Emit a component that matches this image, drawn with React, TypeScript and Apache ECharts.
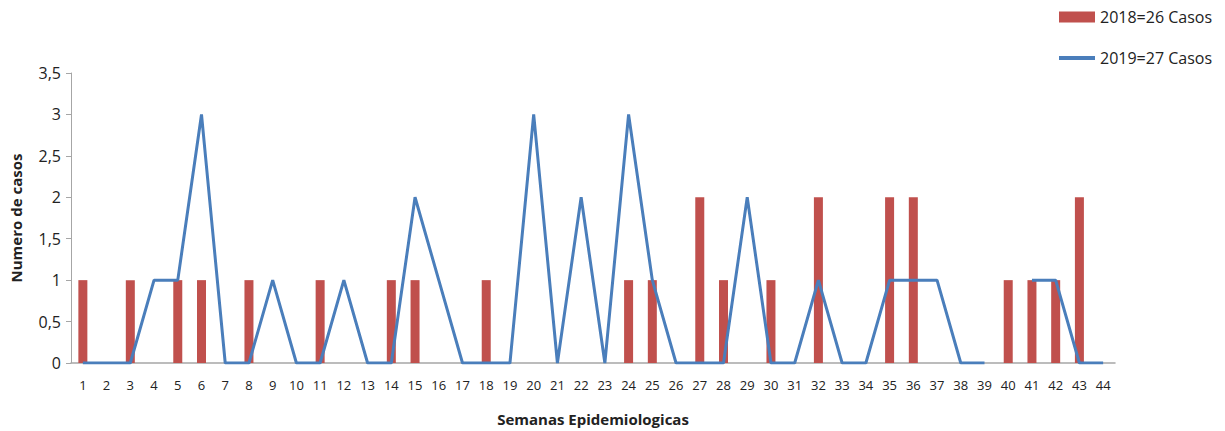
import React, { useEffect, useRef } from "react";
import * as echarts from "echarts";

const weeks: string[] = Array.from({ length: 44 }, (_, i) => String(i + 1));
const cases2018: (number | null)[] = [
  1, 0, 1, 0, 1, 1, 0, 1, 0, 0, 1, 0, 0, 1, 1, 0, 0, 1, 0, 0, 0, 0, 0, 1, 1, 0,
  2, 1, 0, 1, 0, 2, 0, 0, 2, 2, 0, 0, 0, 1, 1, 1, 2, 0,
];
const cases2019: (number | null)[] = [
  0, 0, 0, 1, 1, 3, 0, 0, 1, 0, 0, 1, 0, 0, 2, 1, 0, 0, 0, 3, 0, 2, 0, 3, 1, 0,
  0, 0, 2, 0, 0, 1, 0, 0, 1, 1, 1, 0, 0, null, 1, 1, 0, 0,
];
const name2018 = "2018=26 Casos";
const name2019 = "2019=27 Casos";

const FONT = "'Open Sans', sans-serif";

export default function App() {
  const ref = useRef<HTMLDivElement>(null);
  useEffect(() => {
    if (!ref.current) return;
    const chart = echarts.init(ref.current, undefined, { renderer: "svg" });
    chart.setOption({
      animation: false,
      textStyle: { fontFamily: FONT },
      legend: [
        {
          data: [{ name: name2018, icon: "rect" }],
          left: 1054,
          top: 4,
          itemWidth: 36,
          itemHeight: 11,
          itemGap: 6,
          textStyle: { fontFamily: FONT, fontSize: 16, color: "#222" },
        },
        {
          data: [{ name: name2019, icon: "rect" }],
          left: 1054,
          top: 45,
          itemWidth: 36,
          itemHeight: 4,
          itemGap: 6,
          textStyle: { fontFamily: FONT, fontSize: 16, color: "#222" },
        },
      ],
      grid: { left: 71, right: 110, top: 73, bottom: 68, containLabel: false },
      xAxis: {
        type: "category",
        data: weeks,
        boundaryGap: true,
        axisLine: { lineStyle: { color: "#a6a6a6", width: 1.5 } },
        axisTick: { show: false },
        axisLabel: { fontFamily: FONT, fontSize: 13, color: "#222", margin: 15 },
        name: "Semanas Epidemiologicas",
        nameLocation: "middle",
        nameGap: 48,
        nameTextStyle: { fontFamily: FONT, fontSize: 15, fontWeight: "bold", color: "#222" },
      },
      yAxis: {
        type: "value",
        min: 0,
        max: 3.5,
        interval: 0.5,
        splitLine: { show: false },
        axisLine: { show: true, lineStyle: { color: "#a6a6a6" } },
        axisTick: { show: true, length: 5, lineStyle: { color: "#a6a6a6" } },
        axisLabel: {
          fontFamily: FONT,
          fontSize: 16,
          color: "#222",
          margin: 10,
          formatter: (v: number) => String(v).replace(".", ","),
        },
        name: "Numero de casos",
        nameLocation: "middle",
        nameGap: 48,
        nameTextStyle: { fontFamily: FONT, fontSize: 15, fontWeight: "bold", color: "#222" },
      },
      series: [
        {
          name: name2018,
          type: "bar",
          data: cases2018,
          barWidth: 9,
          itemStyle: { color: "#C0504D" },
        },
        {
          name: name2019,
          type: "line",
          data: cases2019,
          symbol: "none",
          connectNulls: false,
          lineStyle: { color: "#4A7EBB", width: 3 },
          itemStyle: { color: "#4A7EBB" },
        },
      ],
    });
    return () => chart.dispose();
  }, []);
  return (
    <div
      ref={ref}
      style={{ position: "fixed", left: 0, top: 0, width: 1225, height: 431, background: "#fff" }}
    />
  );
}
